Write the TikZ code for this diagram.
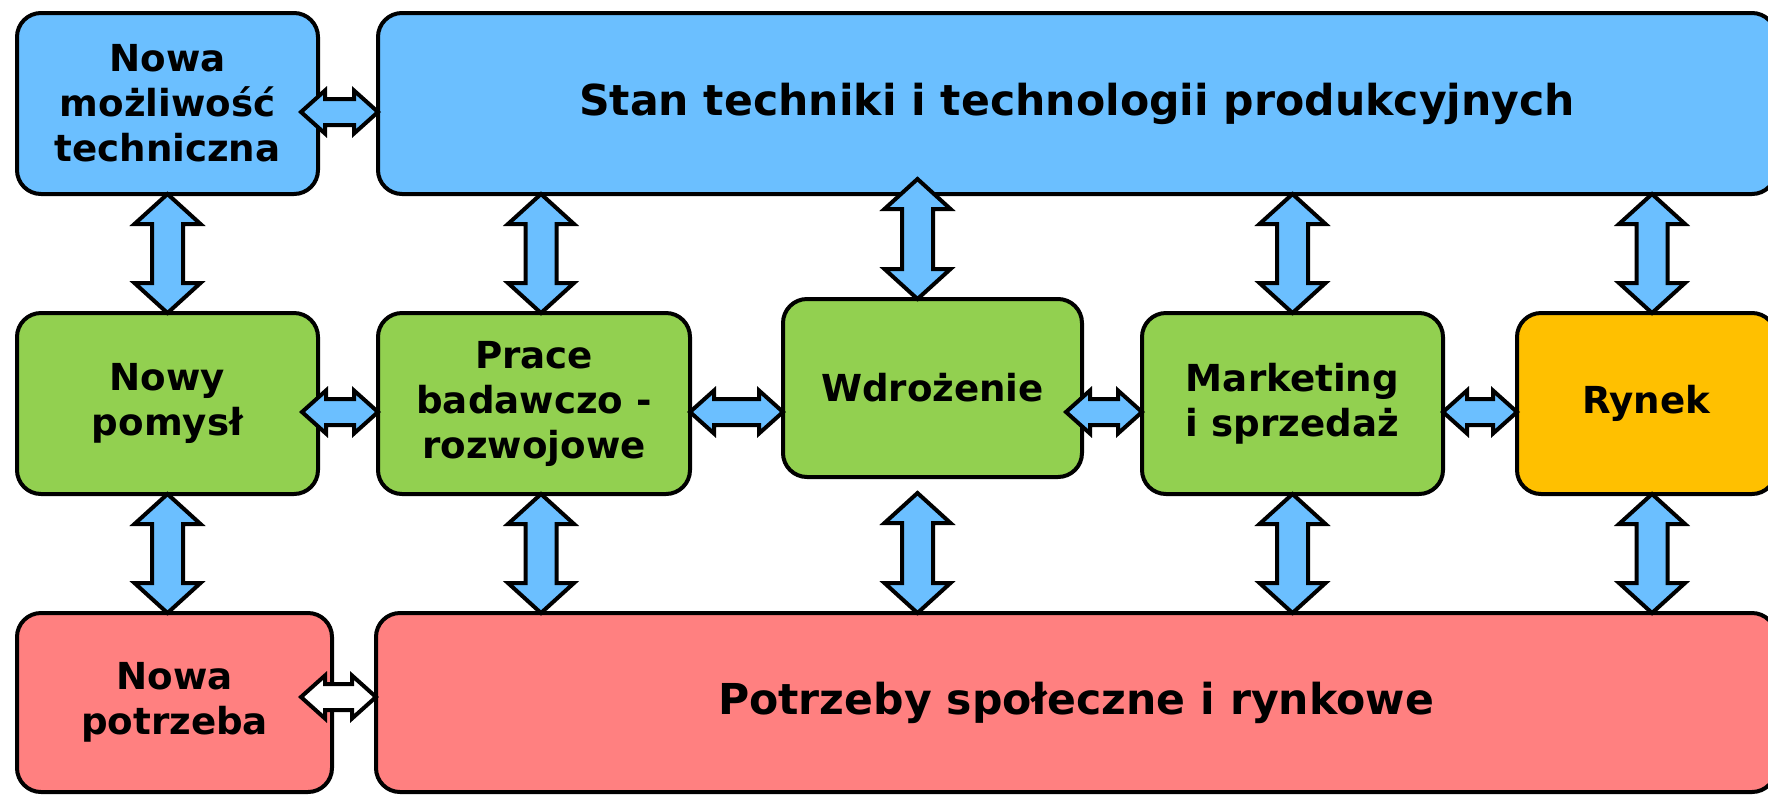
\documentclass[tikz,border=0pt]{standalone}
\usepackage{fontspec}
\setmainfont{DejaVu Sans}
\usetikzlibrary{calc,positioning}

\definecolor{boxblue}{RGB}{107,191,255}
\definecolor{boxgreen}{RGB}{146,208,80}
\definecolor{boxred}{RGB}{255,128,128}
\definecolor{boxorange}{RGB}{255,192,0}

\tikzset{
  box/.style={draw, line width=2pt, rounded corners=12pt, outer sep=0pt, inner sep=0pt,
    align=center, minimum width=150.5pt, minimum height=90.5pt,
    font=\bfseries\fontsize{18.6}{22.5}\selectfont},
  bigbox/.style={box, font=\bfseries\fontsize{21.3}{25}\selectfont},
  fatarrow/.style n args={3}{draw=black, line width=2pt, line join=miter,
    to path={
      -- ($(\tikztostart)!#3!(\tikztotarget)!#1!90:(\tikztotarget)$)
      -- ($(\tikztostart)!#3!(\tikztotarget)!#2!90:(\tikztotarget)$)
      -- ($(\tikztotarget)!#3!(\tikztostart)!#2!-90:(\tikztostart)$)
      -- ($(\tikztotarget)!#3!(\tikztostart)!#1!-90:(\tikztostart)$)
      -- (\tikztotarget)
      -- ($(\tikztotarget)!#3!(\tikztostart)!#1!90:(\tikztostart)$)
      -- ($(\tikztotarget)!#3!(\tikztostart)!#2!90:(\tikztostart)$)
      -- ($(\tikztostart)!#3!(\tikztotarget)!#2!-90:(\tikztotarget)$)
      -- ($(\tikztostart)!#3!(\tikztotarget)!#1!-90:(\tikztotarget)$)
      -- cycle}},
  vfat/.style={fatarrow={16.5pt}{7.75pt}{15pt}, fill=boxblue},
  hfat/.style={fatarrow={10.75pt}{6.5pt}{12pt}, fill=boxblue}
}

\begin{document}
\begin{tikzpicture}[node distance=30pt]
\useasboundingbox (0,0) rectangle (884pt,-397pt);

\node[box, fill=boxblue] (moz) at (83.75pt,-51.75pt) {Nowa\\możliwość\\techniczna};
\node[bigbox, fill=boxblue, minimum width=699pt, right=of moz] (stan) {Stan techniki i technologii produkcyjnych};

\node[box, fill=boxgreen, below=59.5pt of moz] (pomysl) {Nowy\\pomysł};
\node[box, fill=boxgreen, minimum width=156pt, right=of pomysl] (prace) {Prace\\badawczo -\\rozwojowe};
\node[box, fill=boxgreen, minimum width=149.5pt, minimum height=89pt, right=46.5pt of prace, yshift=7.75pt] (wdroz) {Wdrożenie};
\node[box, fill=boxgreen, right=of wdroz, yshift=-7.75pt] (marketing) {Marketing\\i sprzedaż};
\node[box, fill=boxorange, minimum width=129.5pt, right=37pt of marketing] (rynek) {Rynek};

\node[box, fill=boxred, minimum width=157.5pt, minimum height=89.5pt, below right=59.5pt and 0pt of pomysl.south west] (potrzeba) {Nowa\\potrzeba};
\node[bigbox, fill=boxred, minimum width=700pt, minimum height=89.5pt, right=22pt of potrzeba] (spol) {Potrzeby społeczne i rynkowe};

\draw[vfat] (moz.south) to (pomysl.north);
\draw[vfat] ([xshift=3.5pt]prace.north |- stan.south) to ([xshift=3.5pt]prace.north);
\draw[vfat] ([xshift=-7.5pt,yshift=60pt]wdroz.north) to ([xshift=-7.5pt]wdroz.north);
\draw[vfat] (marketing.north |- stan.south) to (marketing.north);
\draw[vfat] ([xshift=2.75pt]rynek.north |- stan.south) to ([xshift=2.75pt]rynek.north);

\draw[vfat] (pomysl.south) to (pomysl.south |- potrzeba.north);
\draw[vfat] ([xshift=3.5pt]prace.south) to ([xshift=3.5pt]prace.south |- spol.north);
\draw[vfat] ([xshift=-7.5pt,yshift=-8pt]wdroz.south) to ([xshift=-7.5pt]wdroz.south |- spol.north);
\draw[vfat] (marketing.south) to (marketing.south |- spol.north);
\draw[vfat] ([xshift=2.75pt]rynek.south) to ([xshift=2.75pt]rynek.south |- spol.north);

\draw[hfat] ([xshift=-8.5pt,yshift=-4.25pt]moz.east) to ([yshift=-4.25pt]stan.west);
\draw[hfat] ([xshift=-8pt,yshift=-4.25pt]pomysl.east) to ([yshift=-4.25pt]prace.west);
\draw[hfat] ([yshift=-4.25pt]prace.east) to ([yshift=-12pt]wdroz.west);
\draw[hfat] ([xshift=-8pt,yshift=-12pt]wdroz.east) to ([yshift=-4.25pt]marketing.west);
\draw[hfat] ([yshift=-4.25pt]marketing.east) to ([yshift=-4.25pt]rynek.west);
\draw[hfat, fill=white] ([xshift=-15.5pt,yshift=2.75pt]potrzeba.east) to ([yshift=2.75pt]spol.west);
\end{tikzpicture}
\end{document}
